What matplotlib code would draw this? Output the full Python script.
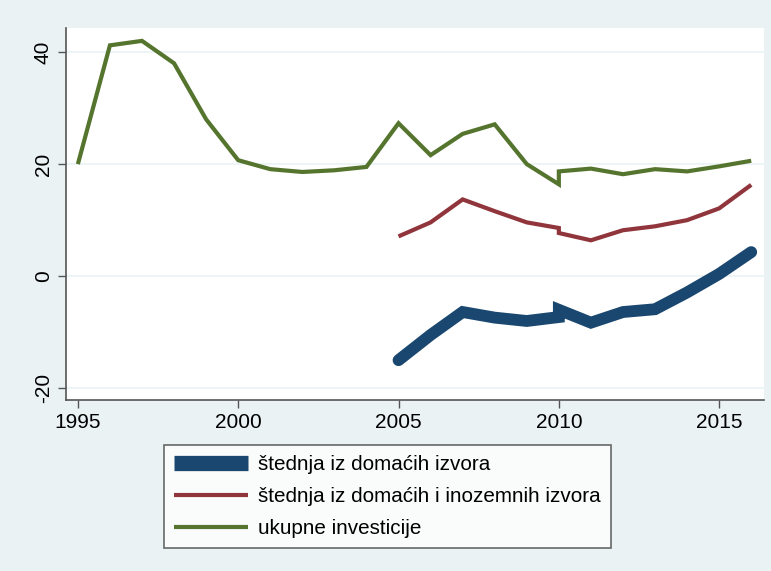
import matplotlib.pyplot as plt

# godine (2010 se pojavljuje dvaput - prekid serije)
years_inv = [1995, 1996, 1997, 1998, 1999, 2000, 2001, 2002, 2003, 2004, 2005,
             2006, 2007, 2008, 2009, 2010, 2010, 2011, 2012, 2013, 2014, 2015, 2016]
years_sav = [2005, 2006, 2007, 2008, 2009, 2010, 2010, 2011, 2012, 2013, 2014, 2015, 2016]

investicije = [20.0, 41.2, 42.0, 38.0, 28.0, 20.7, 19.1, 18.6, 18.9, 19.5, 27.3,
               21.6, 25.4, 27.1, 20.0, 16.4, 18.7, 19.2, 18.2, 19.1, 18.7, 19.6, 20.6]
stednja_ukupno = [7.1, 9.6, 13.7, 11.6, 9.6, 8.6, 7.7, 6.4, 8.2, 8.9, 10.0, 12.1, 16.3]
stednja_domaca = [-15.0, -10.5, -6.4, -7.4, -8.0, -7.3, -6.0, -8.3, -6.4, -5.9, -2.9, 0.4, 4.3]

labels = ["štednja iz domaćih izvora",
          "štednja iz domaćih i inozemnih izvora",
          "ukupne investicije"]

bg = "#eaf2f3"
plt.rcParams["font.family"] = ["Liberation Sans", "DejaVu Sans"]
plt.rcParams["axes.unicode_minus"] = False

fig = plt.figure(figsize=(7.71, 5.71), dpi=100, facecolor=bg)
ax = fig.add_axes([0.0856, 0.2995, 0.9054, 0.6515])

l1, = ax.plot(years_sav, stednja_domaca, color="#1a476f", lw=8.5,
              solid_capstyle="round", solid_joinstyle="miter")
l2, = ax.plot(years_sav, stednja_ukupno, color="#90353b", lw=3,
              solid_capstyle="butt", solid_joinstyle="miter")
l3, = ax.plot(years_inv, investicije, color="#55752f", lw=3,
              solid_capstyle="butt", solid_joinstyle="miter")

ax.set_xlim(1994.63, 2016.4)
ax.set_ylim(-22.1, 44.3)
ax.set_xticks([1995, 2000, 2005, 2010, 2015])
ax.set_yticks([-20, 0, 20, 40])
ax.yaxis.grid(True, color=bg, lw=1.2)
ax.set_axisbelow(True)
for s in ["top", "right"]:
    ax.spines[s].set_visible(False)
for s in ["left", "bottom"]:
    ax.spines[s].set_color("#555555")
    ax.spines[s].set_linewidth(1.2)
ax.tick_params(length=6, width=1, color="#555555", labelsize=15)
for t in ax.get_yticklabels():
    t.set_rotation(90)
    t.set_va("center")

leg = fig.legend([l1, l2, l3], labels, loc="upper left",
                 bbox_to_anchor=(164 / 771, 1 - 445 / 571), borderaxespad=0,
                 fontsize=14.9, frameon=True, fancybox=False, handlelength=3.55,
                 borderpad=0.5, labelspacing=0.62, handletextpad=0.5)
leg.get_frame().set_edgecolor("#444444")
leg.get_frame().set_linewidth(1.2)
l = leg.get_lines()
l[0].set_linewidth(11)
l[0].set_solid_capstyle("butt")

fig.savefig("out.png", dpi=100, facecolor=bg)
